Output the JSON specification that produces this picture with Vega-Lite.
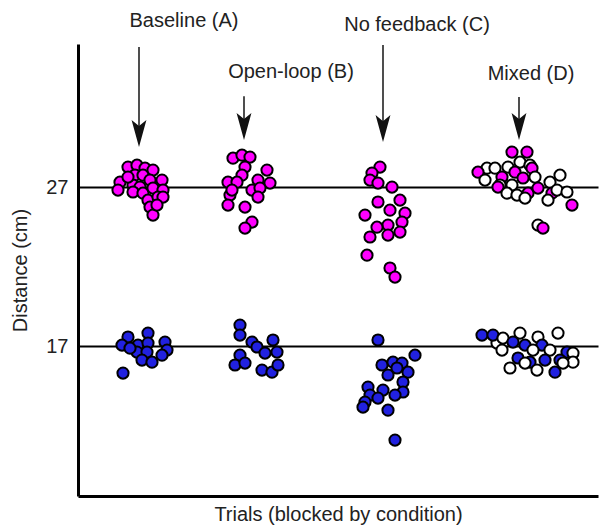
{
  "$schema": "https://vega.github.io/schema/vega-lite/v6.json",
  "width": 520,
  "height": 452,
  "autosize": {"type": "none"},
  "padding": {"left": 78, "top": 44, "right": 4, "bottom": 35},
  "background": "white",
  "config": {
    "view": {"stroke": null},
    "font": "Liberation Sans",
    "axis": {"titleFontWeight": "normal", "titleFont": "Liberation Sans", "labelFont": "Liberation Sans"}
  },
  "datasets": {
    "pts": [
      {"c":"A","type":"magenta","x":50,"y":28.26},{"c":"A","type":"magenta","x":59,"y":28.38},{"c":"A","type":"magenta","x":67,"y":28.19},{"c":"A","type":"magenta","x":75,"y":28.07},{"c":"A","type":"magenta","x":42,"y":27.31},{"c":"A","type":"magenta","x":57,"y":27.75},{"c":"A","type":"magenta","x":65,"y":27.75},{"c":"A","type":"magenta","x":72,"y":27.44},{"c":"A","type":"magenta","x":84,"y":27.44},{"c":"A","type":"magenta","x":55,"y":27.13},{"c":"A","type":"magenta","x":62,"y":27.0},{"c":"A","type":"magenta","x":40,"y":26.81},{"c":"A","type":"magenta","x":55,"y":26.69},{"c":"A","type":"magenta","x":65,"y":26.62},{"c":"A","type":"magenta","x":75,"y":26.94},{"c":"A","type":"magenta","x":85,"y":26.81},{"c":"A","type":"magenta","x":70,"y":26.18},{"c":"A","type":"magenta","x":80,"y":26.37},{"c":"A","type":"magenta","x":72,"y":25.74},{"c":"A","type":"magenta","x":75,"y":25.24},{"c":"A","type":"magenta","x":50,"y":27.63},{"c":"A","type":"magenta","x":85,"y":26.37},{"c":"A","type":"magenta","x":79,"y":25.87},
      {"c":"B","type":"magenta","x":155,"y":28.82},{"c":"B","type":"magenta","x":164,"y":29.01},{"c":"B","type":"magenta","x":172,"y":28.89},{"c":"B","type":"magenta","x":167,"y":28.26},{"c":"B","type":"magenta","x":164,"y":27.75},{"c":"B","type":"magenta","x":189,"y":28.07},{"c":"B","type":"magenta","x":150,"y":27.31},{"c":"B","type":"magenta","x":159,"y":27.31},{"c":"B","type":"magenta","x":180,"y":27.44},{"c":"B","type":"magenta","x":192,"y":27.25},{"c":"B","type":"magenta","x":174,"y":26.81},{"c":"B","type":"magenta","x":182,"y":26.94},{"c":"B","type":"magenta","x":152,"y":26.5},{"c":"B","type":"magenta","x":180,"y":26.37},{"c":"B","type":"magenta","x":150,"y":25.87},{"c":"B","type":"magenta","x":167,"y":25.74},{"c":"B","type":"magenta","x":174,"y":24.8},{"c":"B","type":"magenta","x":167,"y":24.42},{"c":"B","type":"magenta","x":154,"y":26.81},
      {"c":"C","type":"magenta","x":302,"y":28.26},{"c":"C","type":"magenta","x":294,"y":27.88},{"c":"C","type":"magenta","x":292,"y":27.44},{"c":"C","type":"magenta","x":300,"y":27.25},{"c":"C","type":"magenta","x":314,"y":27.0},{"c":"C","type":"magenta","x":322,"y":26.18},{"c":"C","type":"magenta","x":300,"y":26.06},{"c":"C","type":"magenta","x":312,"y":25.55},{"c":"C","type":"magenta","x":327,"y":25.36},{"c":"C","type":"magenta","x":287,"y":25.24},{"c":"C","type":"magenta","x":324,"y":24.8},{"c":"C","type":"magenta","x":310,"y":24.61},{"c":"C","type":"magenta","x":299,"y":24.48},{"c":"C","type":"magenta","x":322,"y":24.17},{"c":"C","type":"magenta","x":292,"y":23.86},{"c":"C","type":"magenta","x":310,"y":23.98},{"c":"C","type":"magenta","x":289,"y":22.72},{"c":"C","type":"magenta","x":312,"y":21.91},{"c":"C","type":"magenta","x":317,"y":21.34},
      {"c":"D","type":"open","x":442,"y":28.57},{"c":"D","type":"magenta","x":434,"y":29.2},{"c":"D","type":"magenta","x":449,"y":29.2},{"c":"D","type":"open","x":409,"y":28.19},{"c":"D","type":"magenta","x":400,"y":27.94},{"c":"D","type":"open","x":407,"y":27.44},{"c":"D","type":"open","x":417,"y":28.19},{"c":"D","type":"magenta","x":424,"y":27.63},{"c":"D","type":"open","x":430,"y":28.26},{"c":"D","type":"magenta","x":437,"y":27.94},{"c":"D","type":"open","x":452,"y":28.38},{"c":"D","type":"magenta","x":454,"y":28.19},{"c":"D","type":"open","x":457,"y":27.63},{"c":"D","type":"magenta","x":445,"y":27.57},{"c":"D","type":"open","x":422,"y":27.13},{"c":"D","type":"magenta","x":420,"y":27.0},{"c":"D","type":"open","x":434,"y":27.13},{"c":"D","type":"open","x":429,"y":26.62},{"c":"D","type":"open","x":439,"y":26.5},{"c":"D","type":"magenta","x":450,"y":26.62},{"c":"D","type":"open","x":447,"y":26.31},{"c":"D","type":"magenta","x":460,"y":26.94},{"c":"D","type":"open","x":472,"y":27.31},{"c":"D","type":"magenta","x":474,"y":26.62},{"c":"D","type":"open","x":482,"y":27.75},{"c":"D","type":"open","x":479,"y":26.81},{"c":"D","type":"open","x":489,"y":26.69},{"c":"D","type":"open","x":470,"y":26.18},{"c":"D","type":"magenta","x":494,"y":25.87},{"c":"D","type":"open","x":460,"y":24.61},{"c":"D","type":"magenta","x":465,"y":24.42},
      {"c":"A","type":"blue","x":70,"y":17.82},{"c":"A","type":"blue","x":50,"y":17.57},{"c":"A","type":"blue","x":44,"y":17.06},{"c":"A","type":"blue","x":60,"y":17.06},{"c":"A","type":"blue","x":70,"y":17.19},{"c":"A","type":"blue","x":87,"y":17.25},{"c":"A","type":"blue","x":59,"y":16.62},{"c":"A","type":"blue","x":69,"y":16.62},{"c":"A","type":"blue","x":89,"y":16.75},{"c":"A","type":"blue","x":84,"y":16.43},{"c":"A","type":"blue","x":64,"y":16.12},{"c":"A","type":"blue","x":74,"y":15.99},{"c":"A","type":"blue","x":45,"y":15.3},{"c":"A","type":"blue","x":52,"y":16.87},
      {"c":"B","type":"blue","x":162,"y":18.32},{"c":"B","type":"blue","x":162,"y":17.69},{"c":"B","type":"blue","x":174,"y":17.25},{"c":"B","type":"blue","x":195,"y":17.38},{"c":"B","type":"blue","x":179,"y":16.94},{"c":"B","type":"blue","x":187,"y":16.56},{"c":"B","type":"blue","x":199,"y":16.62},{"c":"B","type":"blue","x":162,"y":16.43},{"c":"B","type":"blue","x":157,"y":15.81},{"c":"B","type":"blue","x":167,"y":15.93},{"c":"B","type":"blue","x":184,"y":15.49},{"c":"B","type":"blue","x":194,"y":15.36},{"c":"B","type":"blue","x":200,"y":15.81},
      {"c":"C","type":"blue","x":300,"y":17.38},{"c":"C","type":"blue","x":337,"y":16.43},{"c":"C","type":"blue","x":304,"y":15.81},{"c":"C","type":"blue","x":315,"y":15.99},{"c":"C","type":"blue","x":324,"y":15.93},{"c":"C","type":"blue","x":330,"y":15.36},{"c":"C","type":"blue","x":310,"y":15.18},{"c":"C","type":"blue","x":319,"y":15.62},{"c":"C","type":"blue","x":325,"y":14.74},{"c":"C","type":"blue","x":290,"y":14.42},{"c":"C","type":"blue","x":305,"y":14.23},{"c":"C","type":"blue","x":325,"y":14.11},{"c":"C","type":"blue","x":317,"y":13.92},{"c":"C","type":"blue","x":292,"y":13.92},{"c":"C","type":"blue","x":300,"y":13.73},{"c":"C","type":"blue","x":287,"y":13.48},{"c":"C","type":"blue","x":285,"y":13.16},{"c":"C","type":"blue","x":310,"y":12.97},{"c":"C","type":"blue","x":317,"y":11.09},
      {"c":"D","type":"blue","x":404,"y":17.69},{"c":"D","type":"open","x":419,"y":17.19},{"c":"D","type":"blue","x":415,"y":17.69},{"c":"D","type":"open","x":425,"y":17.5},{"c":"D","type":"open","x":442,"y":17.82},{"c":"D","type":"blue","x":435,"y":17.25},{"c":"D","type":"open","x":460,"y":17.57},{"c":"D","type":"blue","x":447,"y":17.06},{"c":"D","type":"open","x":480,"y":17.82},{"c":"D","type":"blue","x":464,"y":17.06},{"c":"D","type":"open","x":424,"y":16.75},{"c":"D","type":"open","x":455,"y":16.75},{"c":"D","type":"blue","x":489,"y":16.62},{"c":"D","type":"open","x":472,"y":16.75},{"c":"D","type":"blue","x":440,"y":16.25},{"c":"D","type":"open","x":495,"y":16.56},{"c":"D","type":"blue","x":452,"y":15.99},{"c":"D","type":"open","x":447,"y":15.93},{"c":"D","type":"blue","x":467,"y":16.12},{"c":"D","type":"blue","x":482,"y":16.12},{"c":"D","type":"open","x":432,"y":15.62},{"c":"D","type":"open","x":459,"y":15.49},{"c":"D","type":"open","x":495,"y":15.99},{"c":"D","type":"open","x":485,"y":15.93},{"c":"D","type":"blue","x":477,"y":15.36}
    ],
    "arrows": [
      {"c":"A","x":61,"y":35.81,"y2":30.27},
      {"c":"B","x":166,"y":32.72,"y2":30.71},
      {"c":"C","x":305,"y":35.93,"y2":30.58},
      {"c":"D","x":441,"y":32.66,"y2":30.71}
    ],
    "heads": [
      {"c":"A","x":61,"y":29.52},
      {"c":"B","x":166,"y":29.96},
      {"c":"C","x":305,"y":29.83},
      {"c":"D","x":441,"y":29.96}
    ],
    "labels": [
      {"c":"A","x":106,"y":37.45,"label":"Baseline (A)"},
      {"c":"B","x":213,"y":34.25,"label":"Open-loop (B)"},
      {"c":"C","x":339,"y":37.2,"label":"No feedback (C)"},
      {"c":"D","x":453,"y":34.1,"label":"Mixed (D)"}
    ]
  },
  "encoding": {
    "x": {
      "field": "x", "type": "quantitative",
      "scale": {"domain": [0, 520], "nice": false, "zero": false},
      "axis": {"title": "Trials (blocked by condition)", "labels": false, "ticks": false, "grid": false,
               "domainColor": "black", "domainWidth": 3, "titleFontSize": 20, "titleColor": "#222", "titlePadding": 8}
    },
    "y": {
      "field": "y", "type": "quantitative",
      "scale": {"domain": [7.57, 36], "nice": false, "zero": false},
      "axis": {"title": "Distance (cm)", "values": [17, 27], "ticks": false, "grid": true, "gridColor": "black", "gridWidth": 2, "gridOpacity": 1,
               "domainColor": "black", "domainWidth": 3, "labelFontSize": 20, "labelColor": "#222", "labelPadding": 10,
               "titleFontSize": 20, "titleColor": "#222", "titlePadding": 15}
    }
  },
  "layer": [
    {
      "data": {"name": "pts"},
      "mark": {"type": "point", "filled": true, "size": 125, "stroke": "black", "strokeWidth": 2, "opacity": 1, "strokeOpacity": 1, "fillOpacity": 1},
      "encoding": {
        "fill": {"field": "type", "type": "nominal", "scale": {"domain": ["magenta", "blue", "open"], "range": ["#ff00ff", "#2121e0", "#ffffff"]}, "legend": null}
      }
    },
    {
      "data": {"name": "arrows"},
      "mark": {"type": "rule", "color": "#222", "strokeWidth": 1.6},
      "encoding": {"y2": {"field": "y2"}}
    },
    {
      "data": {"name": "heads"},
      "mark": {"type": "point", "filled": true, "shape": "M0,0L-0.55,-2L0,-1.55L0.55,-2Z", "size": 729, "color": "#111", "opacity": 1, "strokeWidth": 0}
    },
    {
      "data": {"name": "labels"},
      "mark": {"type": "text", "fontSize": 20, "color": "#222", "font": "Liberation Sans", "align": "center", "baseline": "middle"},
      "encoding": {"text": {"field": "label", "type": "nominal"}}
    }
  ]
}
